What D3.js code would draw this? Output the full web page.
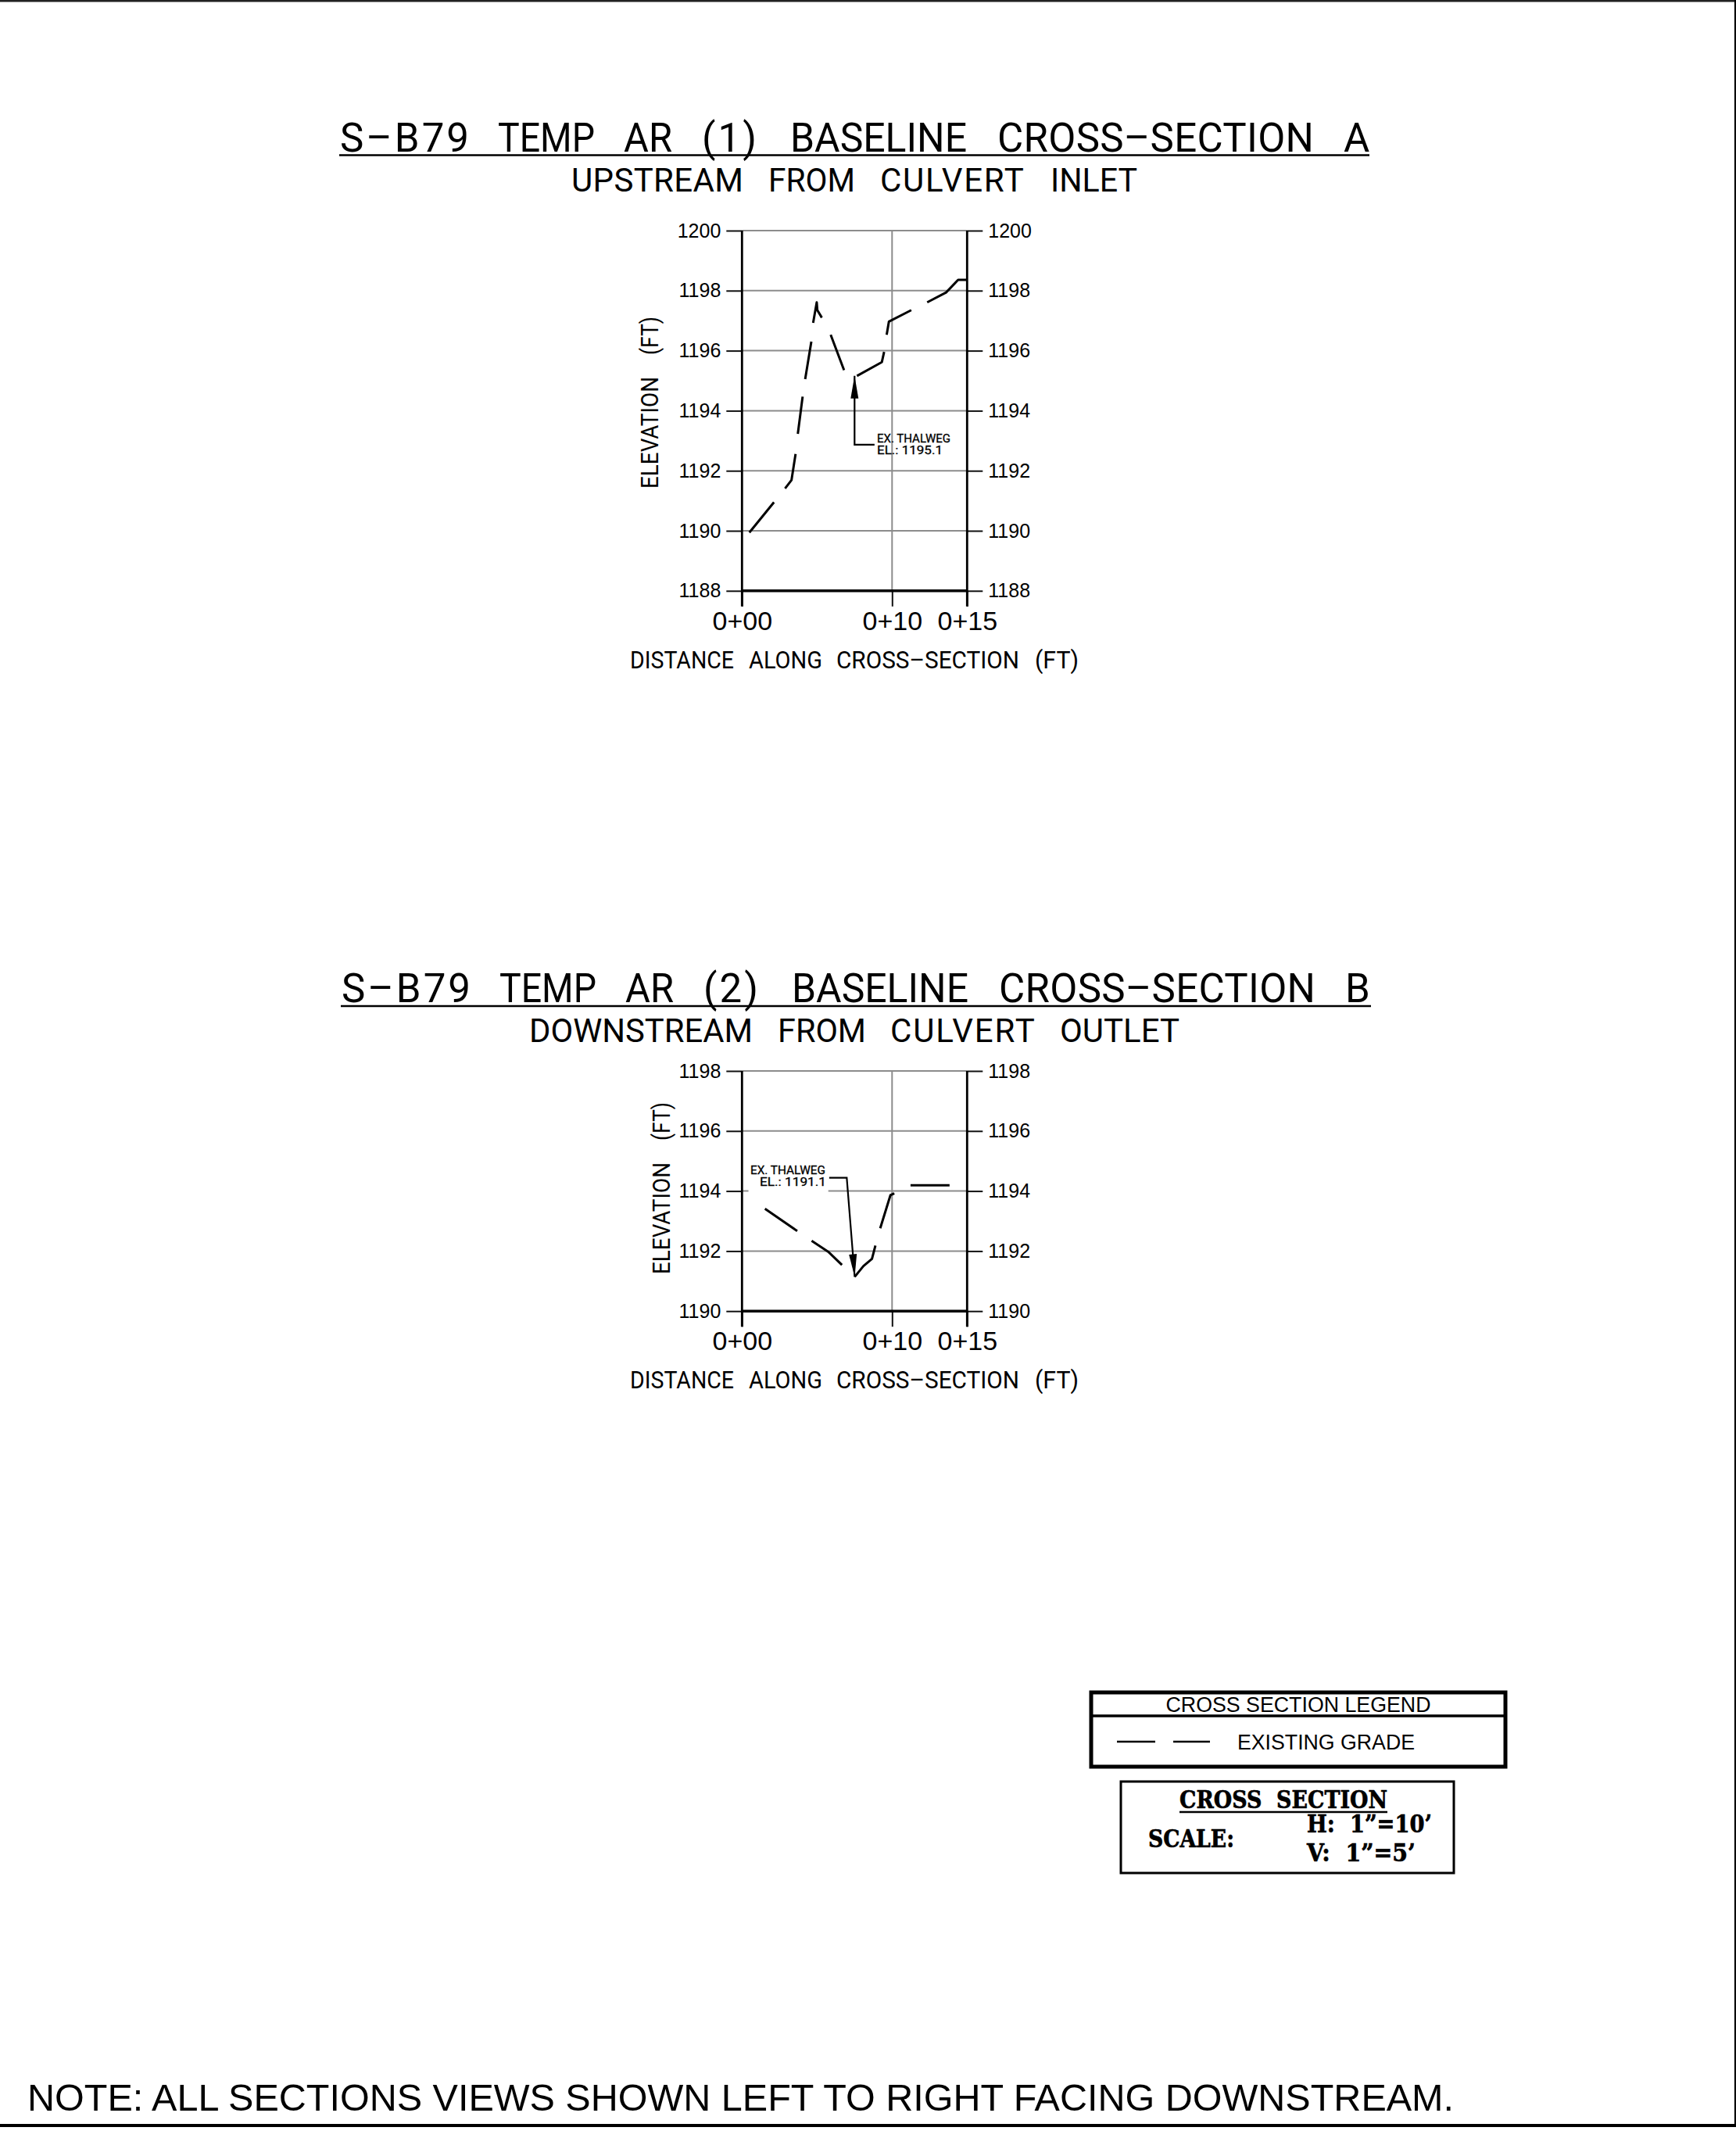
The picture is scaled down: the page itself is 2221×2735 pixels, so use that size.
<!DOCTYPE html>
<html>
<head>
<meta charset="utf-8">
<script src="https://cdn.jsdelivr.net/npm/d3@7"></script>
<style>
html,body{margin:0;padding:0;background:#fff;}
svg{display:block;}
text{white-space:pre;fill:#000;}
</style>
</head>
<body>
<div id="chart"></div>
<script>
// ---- data -------------------------------------------------------------
const xTickValues = [0, 10, 15];
const xTickLabels = ["0+00", "0+10", "0+15"];

const titleWordsA = ["S\u2013B79", "TEMP", "AR", "(1)", "BASELINE", "CROSS\u2013SECTION", "A"];
const subtitleWordsA = ["UPSTREAM", "FROM", "CULVERT", "INLET"];
const yTicksA = [1188, 1190, 1192, 1194, 1196, 1198, 1200];
// existing grade, null marks a gap of the dashed line
const distanceA = [0.49, 2.13, null, 2.87, 3.3, 3.57, null, 3.72, 4.04, null, 4.21, 4.62, null, 4.74, 4.98, 5.02, 5.32, null, 5.91, 6.8, null, 7.66, 9.32, 9.47, null, 9.64, 9.79, 11.28, null, 12.34, 13.6, 14.4, 15];
const elevationA = [1189.94, 1190.95, null, 1191.41, 1191.69, 1192.56, null, 1193.23, 1194.47, null, 1195.05, 1196.3, null, 1196.93, 1197.61, 1197.35, 1197.1, null, 1196.53, 1195.35, null, 1195.16, 1195.62, 1195.96, null, 1196.53, 1196.97, 1197.35, null, 1197.61, 1197.94, 1198.36, 1198.36];
const thalwegA = ["EX. THALWEG", "EL.: 1195.1"];
const leaderDistanceA = [8.83, 7.5, 7.5];
const leaderElevationA = [1192.87, 1192.87, 1195.16];

const titleWordsB = ["S\u2013B79", "TEMP", "AR", "(2)", "BASELINE", "CROSS\u2013SECTION", "B"];
const subtitleWordsB = ["DOWNSTREAM", "FROM", "CULVERT", "OUTLET"];
const yTicksB = [1190, 1192, 1194, 1196, 1198];
const distanceB = [1.53, 3.68, null, 4.64, 5.74, 6.66, null, 7.51, 8.09, 8.66, 8.89, null, 9.21, 9.89, 10.15, null, 11.23, 13.83];
const elevationB = [1193.41, 1192.67, null, 1192.34, 1191.98, 1191.54, null, 1191.14, 1191.5, 1191.74, 1192.18, null, 1192.76, 1193.86, 1193.92, null, 1194.19, 1194.19];
const thalwegB = ["EX. THALWEG", "EL.: 1191.1"];
const leaderDistanceB = [5.81, 6.98, 7.51];
const leaderElevationB = [1194.44, 1194.44, 1191.14];

const xAxisTitleWords = ["DISTANCE", "ALONG", "CROSS\u2013SECTION", "(FT)"];
const yAxisTitleWords = ["ELEVATION", "(FT)"];
const legendTitle = "CROSS SECTION LEGEND";
const legendEntry = "EXISTING GRADE";
const scaleTitle = "CROSS  SECTION";
const scaleLabel = "SCALE:";
const scaleH = "H:  1\u201D=10\u2019";
const scaleV = "V:  1\u201D=5\u2019";
const noteText = "NOTE: ALL SECTIONS VIEWS SHOWN LEFT TO RIGHT FACING DOWNSTREAM.";

// ---- page --------------------------------------------------------------
const W = 2221, H = 2735;
const svg = d3.select("#chart").append("svg").attr("width", W).attr("height", H).attr("viewBox", `0 0 ${W} ${H}`);
const SANS = "'Liberation Sans', Arial, sans-serif";
const CAD = "Roboto, 'Liberation Sans', sans-serif";
const GRAY = "#8c8c8c";

function label(parent, str, x, y, opts) {
  const o = Object.assign({size: 30, family: SANS, anchor: "start", weight: 400}, opts || {});
  const t = parent.append("text").attr("x", x).attr("y", y)
    .attr("font-family", o.family).attr("font-size", o.size).attr("font-weight", o.weight)
    .attr("text-anchor", o.anchor).text(str);
  if (o.len) t.attr("textLength", o.len).attr("lengthAdjust", "spacingAndGlyphs");
  if (o.stroke) t.attr("stroke", "#000").attr("stroke-width", o.stroke);
  return t;
}

// one line of CAD lettering: every word fills its own span [start, end].
// Words narrower than the span get wider letter gaps, wider words are squeezed.
function wordRow(parent, words, spans, y, size, transform) {
  const t = parent.append("text").attr("font-family", CAD).attr("font-size", size).attr("y", y);
  if (transform) t.attr("transform", transform);
  words.forEach((w, i) => {
    if (i > 0) t.append("tspan").text(" ");
    const span = t.append("tspan").attr("x", spans[i][0]).text(w);
    const target = spans[i][1] - spans[i][0];
    const natural = span.node().getComputedTextLength();
    if (w.length > 1) {
      span.attr("textLength", target).attr("lengthAdjust", natural > target ? "spacingAndGlyphs" : "spacing");
    }
  });
  return t;
}

const PX_PER_FT_X = 19.2, PX_PER_FT_Y = 38.4, X0 = 949.3;

function section(cfg) {
  const g = svg.append("g");
  const yMin = d3.min(cfg.yTicks), yMax = d3.max(cfg.yTicks);
  const x = d3.scaleLinear().domain([0, 15]).range([X0, X0 + 15 * PX_PER_FT_X]);
  const y = d3.scaleLinear().domain([yMin, yMax]).range([cfg.top + (yMax - yMin) * PX_PER_FT_Y, cfg.top]);
  const bottom = y(yMin);

  // grid
  g.append("g").selectAll("line").data(cfg.yTicks.filter(d => d !== yMin)).join("line")
    .attr("x1", x(0)).attr("x2", x(15)).attr("y1", d => y(d)).attr("y2", d => y(d))
    .attr("stroke", GRAY).attr("stroke-width", 2);
  g.append("line").attr("x1", x(10)).attr("x2", x(10)).attr("y1", y(yMax)).attr("y2", bottom)
    .attr("stroke", GRAY).attr("stroke-width", 2);

  // axes
  const styleAxis = a => {
    a.select(".domain").remove();
    a.selectAll("line").attr("stroke", "#111").attr("stroke-width", 2);
    a.selectAll("text").attr("font-family", SANS).attr("fill", "#000");
  };
  g.append("g").attr("transform", `translate(${x(0)},0)`)
    .call(d3.axisLeft(y).tickValues(cfg.yTicks).tickSize(20).tickPadding(7).tickFormat(d3.format("d")))
    .call(styleAxis).selectAll("text").attr("font-size", 25);
  g.append("g").attr("transform", `translate(${x(15)},0)`)
    .call(d3.axisRight(y).tickValues(cfg.yTicks).tickSize(20).tickPadding(7).tickFormat(d3.format("d")))
    .call(styleAxis).selectAll("text").attr("font-size", 25);
  g.append("g").attr("transform", `translate(0,${bottom})`)
    .call(d3.axisBottom(x).tickValues(xTickValues).tickSize(20).tickPadding(6).tickFormat((d, i) => xTickLabels[i]))
    .call(styleAxis).selectAll("text").attr("font-size", 34);

  // frame
  [0, 15].forEach(v => g.append("line").attr("x1", x(v)).attr("x2", x(v)).attr("y1", y(yMax)).attr("y2", bottom + 20)
    .attr("stroke", "#000").attr("stroke-width", 2.8));
  g.append("line").attr("x1", x(0)).attr("x2", x(15)).attr("y1", bottom).attr("y2", bottom)
    .attr("stroke", "#000").attr("stroke-width", 3.4);

  // annotation mask
  if (cfg.mask) {
    g.append("rect").attr("x", x(cfg.mask[0])).attr("width", x(cfg.mask[1]) - x(cfg.mask[0]))
      .attr("y", y(cfg.mask[2])).attr("height", y(cfg.mask[3]) - y(cfg.mask[2])).attr("fill", "#fff");
  }

  // existing grade
  const line = d3.line().defined(d => d[0] !== null).x(d => x(d[0])).y(d => y(d[1]));
  g.append("path").attr("d", line(cfg.dist.map((d, i) => [d, cfg.elev[i]])))
    .attr("fill", "none").attr("stroke", "#000").attr("stroke-width", 3).attr("stroke-linejoin", "round");

  // leader + arrow
  const lead = cfg.leadD.map((d, i) => [d, cfg.leadE[i]]);
  g.append("path").attr("d", line(lead)).attr("fill", "none").attr("stroke", "#000").attr("stroke-width", 2.2);
  const tip = lead[lead.length - 1], prev = lead[lead.length - 2];
  const tx = x(tip[0]), ty = y(tip[1]);
  const ang = Math.atan2(y(prev[1]) - ty, x(prev[0]) - tx);
  const L = 29, W2 = 5;
  const bx = tx + L * Math.cos(ang), by = ty + L * Math.sin(ang);
  g.append("polygon").attr("points", [[tx, ty],
      [bx - W2 * Math.sin(ang), by + W2 * Math.cos(ang)],
      [bx + W2 * Math.sin(ang), by - W2 * Math.cos(ang)]].map(p => p.join(",")).join(" "))
    .attr("fill", "#000");

  // annotation text
  cfg.noteLines.forEach((s, i) => label(g, s, cfg.noteX[i], y(cfg.noteY) + i * 15,
    {size: 14, family: CAD, len: cfg.noteLen[i], stroke: 0.3}));

  // titles
  wordRow(g, cfg.title, cfg.titleSpans, cfg.titleY, 51);
  g.append("line").attr("x1", cfg.titleSpans[0][0] - 1).attr("x2", cfg.titleSpans[6][1] + 2)
    .attr("y1", cfg.titleY + 5).attr("y2", cfg.titleY + 5).attr("stroke", "#000").attr("stroke-width", 2.5);
  wordRow(g, cfg.subtitle, cfg.subSpans, cfg.subY, 42);
  wordRow(g, xAxisTitleWords, [[806, 939], [958, 1052], [1070, 1304], [1324, 1380]], bottom + 99, 32);
  wordRow(g, yAxisTitleWords, [[0, 143], [171, 220]], 0, 32,
    `translate(${cfg.yTitleX},${cfg.yTitleY}) rotate(-90)`);
}

section({
  top: 295, yTicks: yTicksA, dist: distanceA, elev: elevationA, leadD: leaderDistanceA, leadE: leaderElevationA,
  noteLines: thalwegA, noteX: [1122, 1122], noteY: 1192.95, noteLen: [94, 84],
  title: titleWordsA, titleY: 193.5,
  titleSpans: [[435, 600], [637, 761], [798, 860], [898, 968], [1011, 1237], [1276, 1681], [1719, 1750]],
  subtitle: subtitleWordsA, subY: 245,
  subSpans: [[731, 951], [983, 1094], [1126, 1309], [1344, 1455]],
  yTitleX: 842, yTitleY: 625
});
section({
  top: 1370, yTicks: yTicksB, dist: distanceB, elev: elevationB, leadD: leaderDistanceB, leadE: leaderElevationB,
  mask: [0.43, 5.75, 1194.8, 1193.85],
  noteLines: thalwegB, noteX: [960, 972], noteY: 1194.55, noteLen: [96, 85],
  title: titleWordsB, titleY: 1282,
  titleSpans: [[437, 602], [639, 763], [800, 862], [900, 970], [1013, 1239], [1278, 1683], [1721, 1752]],
  subtitle: subtitleWordsB, subY: 1333,
  subSpans: [[677, 963], [995, 1108], [1139, 1323], [1356, 1509]],
  yTitleX: 857, yTitleY: 1630
});

// ---- legend box --------------------------------------------------------
const legend = svg.append("g");
legend.append("rect").attr("x", 1396).attr("y", 2165).attr("width", 530).attr("height", 95)
  .attr("fill", "none").attr("stroke", "#000").attr("stroke-width", 5);
legend.append("line").attr("x1", 1396).attr("x2", 1926).attr("y1", 2195).attr("y2", 2195)
  .attr("stroke", "#000").attr("stroke-width", 3.5);
label(legend, legendTitle, 1661, 2190, {size: 27, anchor: "middle", len: 339});
legend.append("line").attr("x1", 1429).attr("x2", 1478).attr("y1", 2228).attr("y2", 2228).attr("stroke", "#000").attr("stroke-width", 2.4);
legend.append("line").attr("x1", 1501).attr("x2", 1548).attr("y1", 2228).attr("y2", 2228).attr("stroke", "#000").attr("stroke-width", 2.4);
label(legend, legendEntry, 1583, 2238, {size: 27, len: 227});

// ---- scale box ---------------------------------------------------------
const scaleBox = svg.append("g");
const SERIF = "'DejaVu Serif', 'Liberation Serif', serif";
scaleBox.append("rect").attr("x", 1434).attr("y", 2279).attr("width", 426).attr("height", 117)
  .attr("fill", "none").attr("stroke", "#000").attr("stroke-width", 3);
label(scaleBox, scaleTitle, 1509, 2313, {size: 32, family: SERIF, weight: 700, len: 266, stroke: 0.7});
scaleBox.append("line").attr("x1", 1509).attr("x2", 1775).attr("y1", 2318).attr("y2", 2318).attr("stroke", "#000").attr("stroke-width", 2.5);
label(scaleBox, scaleLabel, 1469, 2363, {size: 32, family: SERIF, weight: 700, len: 110, stroke: 0.7});
label(scaleBox, scaleH, 1672, 2344, {size: 32, family: SERIF, weight: 700, len: 160, stroke: 0.7});
label(scaleBox, scaleV, 1672, 2381, {size: 32, family: SERIF, weight: 700, len: 139, stroke: 0.7});

// ---- note and sheet border ---------------------------------------------
label(svg, noteText, 35, 2700, {size: 49, len: 1825});
svg.append("line").attr("x1", 0).attr("x2", W).attr("y1", 1.3).attr("y2", 1.3).attr("stroke", "#222").attr("stroke-width", 2.6);
svg.append("line").attr("x1", 2220).attr("x2", 2220).attr("y1", 0).attr("y2", 2721).attr("stroke", "#000").attr("stroke-width", 2.2);
svg.append("line").attr("x1", 0).attr("x2", W).attr("y1", 2719).attr("y2", 2719).attr("stroke", "#000").attr("stroke-width", 4.2);
</script>
</body>
</html>
